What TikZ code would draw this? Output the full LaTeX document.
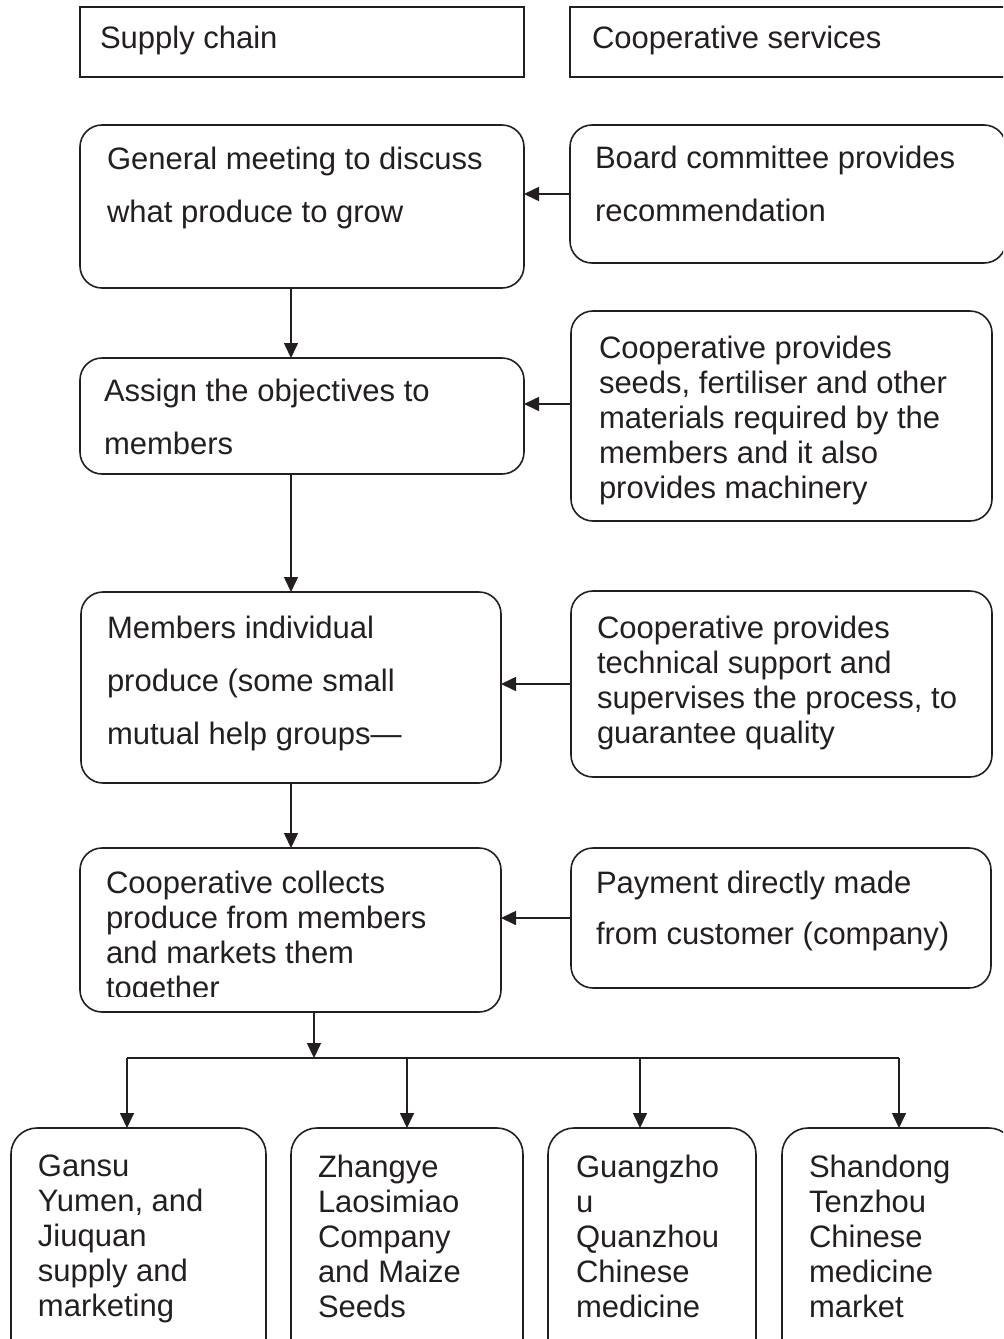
\documentclass[tikz,border=0pt]{standalone}
\usepackage{fontspec}
\setmainfont{Liberation Sans}
\usetikzlibrary{fit,arrows.meta}
\definecolor{ink}{RGB}{35,31,32}
\begin{document}
\begin{tikzpicture}[x=0.5pt,y=-0.5pt,
  line/.style={draw=ink, line width=0.8pt},
  hdr/.style={line, rectangle, inner sep=0pt, outer sep=0pt},
  box/.style={line, rectangle, rounded corners=11pt, inner sep=0pt, outer sep=0pt},
  bbox/.style={box, rounded corners=13pt},
  arr/.style={draw=ink, line width=0.8pt, -{Triangle[length=7.5pt,width=7pt]}},
  txt/.style={anchor=north west, inner sep=0pt, outer sep=0pt, align=left, text=ink,
    font=\fontsize{15.5}{17.5}\selectfont, execute at begin node={\rule{0pt}{12pt}}},
  wtxt/.style={txt, font=\fontsize{15.5}{26.5}\selectfont},
  mtxt/.style={txt, font=\fontsize{15.5}{25.5}\selectfont}
]
\path[use as bounding box] (0,0) rectangle (1003,1339);
\clip (0,0) rectangle (1003,1339);

% headers
\node[hdr, fit={(80,7) (524,77)}] (H1) {};
\node[hdr, fit={(570,7) (1012,77)}] (H2) {};
\node[txt] (tH1) at (100,24) {Supply chain};
\node[txt] (tH2) at (592,24) {Cooperative services};

% left column
\node[box, fit={(80,125) (524,288)}] (L1) {};
\node[box, fit={(80,358) (524,474)}] (L2) {};
\node[box, fit={(81,592) (501,783)}] (L3) {};
\node[box, fit={(80,848) (501,1012)}] (L4) {};

% right column
\node[box, fit={(570,125) (1006,263)}] (R1) {};
\node[box, fit={(571,311) (992,521)}] (R2) {};
\node[box, fit={(571,591) (992,777)}] (R3) {};
\node[box, fit={(571,848) (991,988)}] (R4) {};

% bottom row
\node[bbox, fit={(11,1128) (266,1370)}] (B1) {};
\node[bbox, fit={(291,1128) (523,1370)}] (B2) {};
\node[bbox, fit={(548,1128) (756,1370)}] (B3) {};
\node[bbox, fit={(782,1128) (1015,1370)}] (B4) {};

% texts
\node[wtxt] (tL1) at (107,147) {General meeting to discuss\\what produce to grow};
\node[wtxt] (tR1) at (595,146) {Board committee provides\\recommendation};
\node[wtxt] (tL2) at (104,379) {Assign the objectives to\\members};
\node[txt] (tR2) at (599,336) {Cooperative provides\\seeds, fertiliser and other\\materials required by the\\members and it also\\provides machinery};
\node[wtxt] (tL3) at (107,616) {Members individual\\produce (some small\\mutual help groups—};
\node[txt] (tR3) at (597,616) {Cooperative provides\\technical support and\\supervises the process, to\\guarantee quality};
\begin{scope}
  \clip (81,849) rectangle (500,996);
  \node[txt] (tL4) at (106,871) {Cooperative collects\\produce from members\\and markets them\\together};
\end{scope}
\node[mtxt] (tR4) at (596,871) {Payment directly made\\from customer (company)};
\node[txt] (tB1) at (38,1155) {Gansu\\Yumen, and\\Jiuquan\\supply and\\marketing};
\node[txt] (tB2) at (318,1155) {Zhangye\\Laosimiao\\Company\\and Maize\\Seeds};
\node[txt] (tB3) at (576,1155) {Guangzho\\u\\Quanzhou\\Chinese\\medicine};
\node[txt] (tB4) at (809,1155) {Shandong\\Tenzhou\\Chinese\\medicine\\market};

% horizontal arrows from services to chain
\draw[arr] (R1.west) -- (R1.west -| L1.east);
\draw[arr] ([yshift=6pt]R2.west) -- ([yshift=6pt]R2.west -| L2.east);
\draw[arr] (R3.west) -- (R3.west -| L3.east);
\draw[arr] (R4.west) -- (R4.west -| L4.east);

% vertical arrows in the chain
\draw[arr] ([xshift=-5.5pt]L1.south) -- ([xshift=-5.5pt]L1.south |- L2.north);
\draw[arr] ([xshift=-5.5pt]L2.south) -- ([xshift=-5.5pt]L2.south |- L3.north);
\draw[arr] (L3.south) -- (L3.south |- L4.north);

% branching to markets
\coordinate (br) at (314,1058);
\coordinate (d1) at (127,1058);
\coordinate (d2) at (407,1058);
\coordinate (d3) at (640,1058);
\coordinate (d4) at (899,1058);
\draw[arr] (br |- L4.south) -- (br);
\draw[line] (d1) -- (d4);
\draw[arr] (d1) -- (d1 |- B1.north);
\draw[arr] (d2) -- (d2 |- B2.north);
\draw[arr] (d3) -- (d3 |- B3.north);
\draw[arr] (d4) -- (d4 |- B4.north);
\end{tikzpicture}
\end{document}
